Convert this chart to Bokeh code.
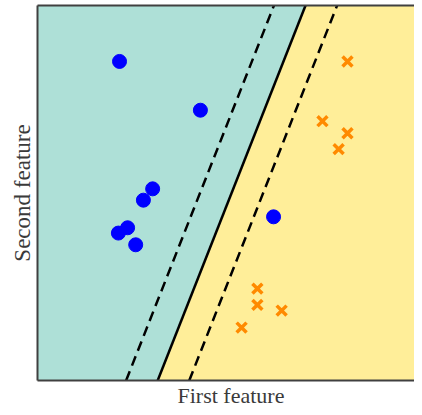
from bokeh.plotting import figure
from bokeh.models import FixedTicker, LinearAxis, Range1d, Title
from bokeh.embed import file_html
from bokeh.resources import INLINE

# Data
blue_x = [2.13, 4.23, 2.99, 2.75, 2.34, 2.10, 2.55, 6.13]
blue_y = [8.52, 7.23, 5.15, 4.85, 4.12, 3.98, 3.67, 4.41]
orange_x = [8.05, 7.40, 8.05, 7.82, 5.71, 5.71, 6.34, 5.30]
orange_y = [8.52, 6.94, 6.62, 6.20, 2.51, 2.08, 1.93, 1.48]

# decision boundary x = b0 + slope * y, margins at +/- margin
b0 = 3.09
slope = 0.387
margin = 0.82

x_min, x_max = 0.0, 9.79
y_min, y_max = 0.08, 10.0

xlabel = "First feature"
ylabel = "Second feature"

p = figure(width=414, height=407, output_backend="svg", toolbar_location=None,
           x_range=Range1d(x_min, x_max), y_range=Range1d(y_min, y_max),
           x_axis_location=None, y_axis_location=None,
           min_border_left=37, min_border_right=0, min_border_top=5,
           min_border_bottom=26)
p.grid.visible = False
p.outline_line_color = None
p.background_fill_color = "#ffee99"
p.border_fill_color = "white"

bot_x = b0 + slope * y_min
top_x = b0 + slope * y_max
p.patch([x_min, bot_x, top_x, x_min], [y_min, y_min, y_max, y_max],
        fill_color="#aee0d7", line_color=None)

p.line([bot_x, top_x], [y_min, y_max], line_color="black", line_width=2.5)
for s in (-margin, margin):
    p.line([bot_x + s, top_x + s], [y_min, y_max], line_color="black",
           line_width=2.5, line_dash="10 6")

p.scatter(blue_x, blue_y, marker="circle", size=14, fill_color="#0000ff",
          line_color="#0000ff")
p.scatter(orange_x, orange_y, marker="x", size=14, line_color="#ff8a00",
          line_width=3.5)

font = "Liberation Serif"

def make_axis(label=None):
    ax = LinearAxis(ticker=FixedTicker(ticks=[]))
    ax.major_tick_line_color = None
    ax.minor_tick_line_color = None
    ax.major_label_text_font_size = "0px"
    ax.axis_line_color = "#404040"
    ax.axis_line_width = 2
    if label:
        ax.axis_label = label
        ax.axis_label_text_font = font
        ax.axis_label_text_font_size = "23px"
        ax.axis_label_text_font_style = "normal"
        ax.axis_label_text_color = "#3a3a3a"
        ax.axis_label_standoff = 3
    return ax

p.add_layout(make_axis(), "below")
p.add_layout(make_axis(ylabel), "left")
p.add_layout(make_axis(), "above")

p.add_layout(Title(text=xlabel, align="left", offset=140, standoff=0,
                   text_font=font, text_font_size="22px",
                   text_font_style="normal", text_color="#3a3a3a"), "below")

open("out.html", "w").write(file_html(p, INLINE))
